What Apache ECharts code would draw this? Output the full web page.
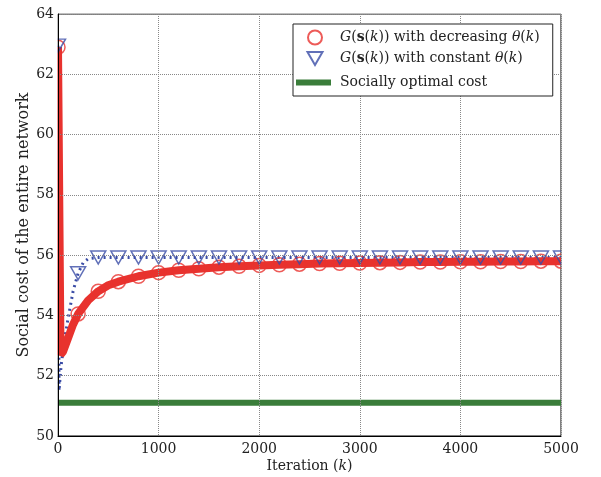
<!DOCTYPE html>
<html><head><meta charset="utf-8">
<script src="https://cdn.jsdelivr.net/npm/echarts@6/dist/echarts.min.js"></script>
<style>html,body{margin:0;padding:0;background:#fff}#c{width:601px;height:477px}</style>
</head><body><div id="c"></div>
<script>
// Red curve (decreasing theta): full line points [iteration, cost]
const redLine = [[0,62.9],[25,52.7],[50,52.8],[100,53.25],[150,53.7],[200,54.05],[300,54.5],[400,54.8],[500,55.0],[600,55.12],[800,55.3],[1000,55.42],[1200,55.5],[1400,55.55],[1600,55.6],[1800,55.63],[2000,55.66],[2200,55.68],[2400,55.7],[2600,55.72],[2800,55.73],[3000,55.74],[3200,55.75],[3400,55.76],[3600,55.77],[3800,55.77],[4000,55.78],[4200,55.78],[4400,55.79],[4600,55.79],[4800,55.8],[5000,55.8]];
// Marker positions (every 200 iterations)
const markerIter = [0,200,400,600,800,1000,1200,1400,1600,1800,2000,2200,2400,2600,2800,3000,3200,3400,3600,3800,4000,4200,4400,4600,4800,5000];
const redMarkers = [62.9,54.05,54.8,55.12,55.3,55.42,55.5,55.55,55.6,55.63,55.66,55.68,55.7,55.72,55.73,55.74,55.75,55.76,55.77,55.77,55.78,55.78,55.79,55.79,55.8,55.8];
// Blue curve (constant theta)
const blueLine = [[0,62.95],[10,51.5],[30,52.3],[60,53.1],[100,53.9],[150,54.8],[200,55.4],[250,55.75],[300,55.88],[400,55.92],[5000,55.92]];
const blueMarkers = [62.95,55.4,55.92,55.92,55.92,55.92,55.92,55.92,55.92,55.92,55.92,55.92,55.92,55.92,55.92,55.92,55.92,55.92,55.92,55.92,55.92,55.92,55.92,55.92,55.92,55.92];
// Socially optimal cost
const optimalCost = 51.1;
const xRange = [0, 5000];
const yRange = [50, 64];

const names = ['decreasing', 'constant', 'Socially optimal cost'];
const RED = '#e8322e', BLUE = '#3a4ca6', GREEN = '#3a7d3a';
const FONT = 'DejaVu Serif';
const TXT = '#222';

const richLegend = {
  t: {fontFamily: FONT, fontSize: 14, color: TXT, lineHeight: 17},
  i: {fontFamily: FONT, fontSize: 14, fontStyle: 'italic', color: TXT, lineHeight: 17},
  b: {fontFamily: FONT, fontSize: 14, fontWeight: 'bold', color: TXT, lineHeight: 17}
};
function legendFmt(n) {
  if (n === 'decreasing') return '{i|G}{t|(}{b|s}{t|(}{i|k}{t|)) with decreasing }{i|θ}{t|(}{i|k}{t|)}';
  if (n === 'constant') return '{i|G}{t|(}{b|s}{t|(}{i|k}{t|)) with constant }{i|θ}{t|(}{i|k}{t|)}';
  return '{t|' + n + '}';
}

const G = {left: 58, right: 40, top: 14, bottom: 41};

const chart = echarts.init(document.getElementById('c'), null, {renderer: 'canvas'});
chart.setOption({
  animation: false,
  backgroundColor: '#fff',
  grid: {left: G.left, right: G.right, top: G.top, bottom: G.bottom, outerBoundsMode: 'none', containLabel: false,
         show: true, borderColor: '#000', borderWidth: 1},
  xAxis: {
    type: 'value', min: xRange[0], max: xRange[1], interval: 1000, z: 10,
    name: '{t|Iteration (}{i|k}{t|)}', nameLocation: 'middle', nameGap: 23, nameMoveOverlap: false,
    nameTextStyle: {fontFamily: FONT, fontSize: 14, color: TXT, rich: {
      t: {fontFamily: FONT, fontSize: 14, color: TXT},
      i: {fontFamily: FONT, fontSize: 14, fontStyle: 'italic', color: TXT}}},
    axisLine: {lineStyle: {color: '#000'}}, axisTick: {show: false},
    axisLabel: {fontFamily: FONT, fontSize: 14, color: TXT, margin: 6, formatter: v => String(v)},
    splitLine: {lineStyle: {type: 'dotted', color: '#888'}}
  },
  yAxis: {
    type: 'value', min: yRange[0], max: yRange[1], interval: 2, z: 10,
    name: 'Social cost of the entire network', nameLocation: 'middle', nameGap: 26, nameMoveOverlap: false,
    nameTextStyle: {fontFamily: FONT, fontSize: 16, color: TXT},
    axisLine: {lineStyle: {color: '#000'}}, axisTick: {show: false},
    axisLabel: {fontFamily: FONT, fontSize: 14, color: TXT, margin: 4, formatter: v => String(v)},
    splitLine: {lineStyle: {type: 'dotted', color: '#888'}}
  },
  legend: [
    {
      left: 293, top: 24, orient: 'vertical', backgroundColor: '#fff',
      borderColor: '#222', borderWidth: 1, borderRadius: 0, padding: [5, 13, 29, 1],
      itemGap: 4, itemWidth: 40, itemHeight: 14, z: 20,
      data: [
        {name: names[0], icon: 'circle'},
        {name: names[1], icon: 'path://M-12.5,0L-12.5,0M27.5,0L27.5,0M0,0L15,0L7.5,13Z'}
      ],
      textStyle: {fontFamily: FONT, fontSize: 14, color: TXT, lineHeight: 17, rich: richLegend},
      formatter: legendFmt
    },
    {
      left: 296, top: 74, orient: 'vertical', padding: 0,
      itemWidth: 39, itemHeight: 6, z: 21,
      data: [{name: names[2], icon: 'path://M0,0L35,0L35,6L0,6ZM39,0L39,0'}],
      textStyle: {fontFamily: FONT, fontSize: 14, color: TXT, lineHeight: 17, rich: richLegend},
      formatter: legendFmt
    }
  ],
  series: [
    {name: 'opt', type: 'line', data: [[xRange[0], optimalCost], [xRange[1], optimalCost]], showSymbol: false,
     lineStyle: {color: GREEN, width: 6}, z: 2},
    {name: 'blueLine', type: 'line', data: blueLine, showSymbol: false,
     lineStyle: {color: BLUE, width: 3, type: [2, 4]}, z: 3},
    {name: 'redLine', type: 'line', data: redLine, showSymbol: false,
     lineStyle: {color: RED, width: 8}, z: 4},
    {name: names[0], type: 'scatter', data: markerIter.map((k, i) => [k, redMarkers[i]]),
     symbol: 'circle', symbolSize: 14,
     itemStyle: {color: 'rgba(255,255,255,0)', borderColor: RED, borderWidth: 1.5}, z: 5},
    {name: names[1], type: 'scatter', data: markerIter.map((k, i) => [k, blueMarkers[i]]),
     symbol: 'triangle', symbolSize: [15, 13], symbolRotate: 180,
     itemStyle: {color: 'rgba(255,255,255,0)', borderColor: BLUE, borderWidth: 1.5}, z: 6},
    {name: names[2], type: 'line', data: [], showSymbol: false, symbol: 'none',
     lineStyle: {color: GREEN, width: 6}, itemStyle: {color: GREEN}}
  ]
});

// Clip markers/lines to the plot area (mask strips just outside the axes box)
const W = 601, H = 477;
const x0 = G.left, x1 = W - G.right, y0 = G.top, y1 = H - G.bottom;
chart.setOption({
  graphic: {
    elements: [
      {type: 'rect', z: 8, silent: true, shape: {x: x0 - 10, y: y0 - 10, width: 9.5, height: y1 - y0 + 20}, style: {fill: '#fff'}},
      {type: 'rect', z: 8, silent: true, shape: {x: x1 + 0.5, y: y0 - 10, width: 10, height: y1 - y0 + 20}, style: {fill: '#fff'}},
      {type: 'rect', z: 8, silent: true, shape: {x: x0 - 10, y: y0 - 10, width: x1 - x0 + 20, height: 9.5}, style: {fill: '#fff'}}
    ]
  }
});
</script></body></html>
